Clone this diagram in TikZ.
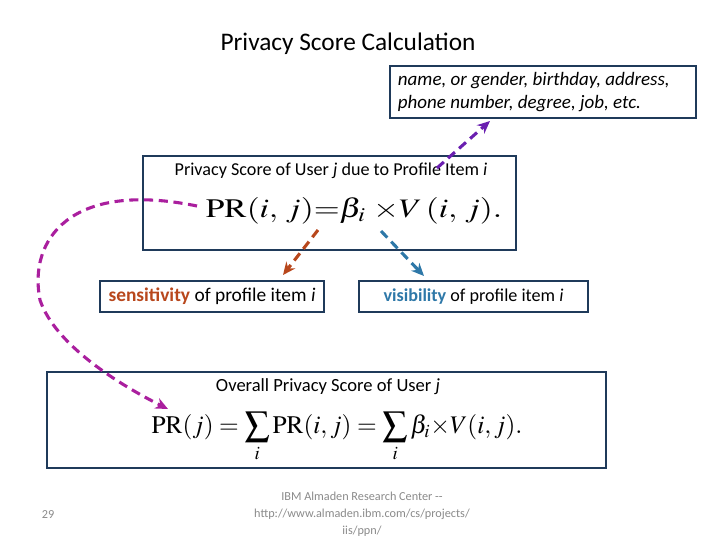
\documentclass[tikz,border=0pt]{standalone}
\usepackage{mathptmx}
\usepackage[no-math]{fontspec}
\setmainfont{Carlito}
\usetikzlibrary{positioning,arrows.meta}
\definecolor{marco}{HTML}{1F3A5A}
\definecolor{sensi}{HTML}{B8471C}
\definecolor{visi}{HTML}{2E78A8}
\definecolor{violeta}{HTML}{6A1FB0}
\definecolor{magenta}{HTML}{AA1F9E}
\definecolor{pie}{HTML}{8A8A8A}
\newcommand{\sumaN}{\mathop{\vcenter{\hbox{\scalebox{1.4}{$\textstyle\sum$}}}}\limits}

\begin{document}
\begin{tikzpicture}[x=0.025cm,y=-0.025cm,
      caja/.style={draw=marco,line width=1.4pt,inner sep=0pt},
      rotulo/.style={font=\fontsize{12.9}{15}\selectfont},
      formula/.style={font=\fontsize{19}{22}\selectfont,inner sep=0pt},
      flecha/.style={-{Stealth[length=9pt,width=8pt]},line width=2.2pt,
                     dash pattern=on 6.5pt off 4pt}]
    \useasboundingbox (0,0) rectangle (720,540);
    \node[font=\fontsize{18}{21}\selectfont] (titulo) at (348,44) {Privacy Score Calculation};
    % cajas
    \node[caja,minimum width=7.65cm,minimum height=1.3cm] (datos) at (543,92) {};
    \node[align=left,font=\fontsize{13.5}{16.5}\selectfont\itshape,anchor=west] (lista) at (393,92)
        {name, or gender, birthday, address,\\phone number, degree, job, etc.};
    \node[caja,minimum width=9.325cm,minimum height=2.35cm] (item) at (329.5,203) {};
    \node[rotulo] (itemtxt) at (331,171) {Privacy Score of User \textit{j} due to Profile Item \textit{i}};
    \node[formula] (itemfor) at (354,211)
        {\scalebox{1.25}[1]{$\mathrm{PR}(i,\,j){=}\beta_i\; {\times} V\,(i,\,j).$}};
    \node[caja,minimum width=5.6cm,minimum height=0.775cm,rotulo,font=\fontsize{13.8}{15}\selectfont]
        (sens) at (212,296.5) {\textbf{\color{sensi}sensitivity} of profile item \textit{i}};
    \node[caja,minimum width=5.725cm,minimum height=0.775cm,rotulo] (vis) at (473.5,296.5)
        {\textbf{\color{visi}visibility} of profile item \textit{i}};
    \node[caja,minimum width=13.975cm,minimum height=2.4cm] (total) at (326.5,420) {};
    \node[rotulo,font=\fontsize{13.2}{15}\selectfont] (totaltxt) at (328,387) {Overall Privacy Score of User \textit{j}};
    \node[formula,font=\fontsize{18}{22}\selectfont] (totalfor) at (337,437)
        {$\mathrm{PR}(j) = \sumaN_i \mathrm{PR}(i, j) = \sumaN_i \beta_i {\times} V(i, j).$};
    % pie de pagina
    \node[text=pie,font=\fontsize{8.7}{12}\selectfont] (pag) at (48,515) {29};
    \node[text=pie,font=\fontsize{8.7}{12.2}\selectfont,align=center] (fuente) at (362,514)
        {IBM Almaden Research Center {-}{-}\\http://www.almaden.ibm.com/cs/projects/\\iis/ppn/};
    % flechas
    \coordinate (p1) at (437,168);
    \coordinate (p2) at (490,121);
    \coordinate (o1) at (318,230);
    \coordinate (o2) at (283,275);
    \coordinate (b1) at (381,231);
    \coordinate (b2) at (424,276);
    \coordinate (m1) at (197,206);
    \coordinate (m2) at (168,409);
    \draw[flecha,violeta] (p1) -- (p2);
    \draw[flecha,sensi] (o1) -- (o2);
    \draw[flecha,visi] (b1) -- (b2);
    \draw[flecha,magenta] (m1) .. controls (70,180) and (28,240) .. (40,300)
        .. controls (55,345) and (120,385) .. (m2);
  \end{tikzpicture}
\end{document}
